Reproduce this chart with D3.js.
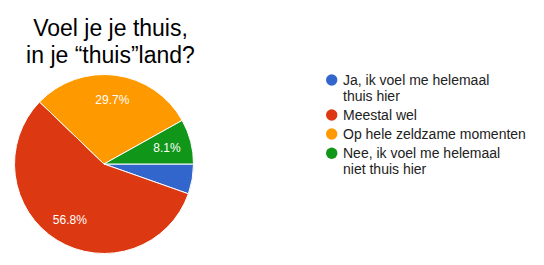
<!DOCTYPE html>
<html><head><meta charset="utf-8">
<script src="https://cdn.jsdelivr.net/npm/d3@7"></script>
<style>body{margin:0;background:#fff}svg{display:block}</style>
</head><body>
<svg id="c" width="544" height="265"></svg>
<script>
const titleLines = ["Voel je je thuis,", "in je \u201cthuis\u201dland?"];
const categories = ["Ja, ik voel me helemaal thuis hier", "Meestal wel", "Op hele zeldzame momenten", "Nee, ik voel me helemaal niet thuis hier"];
const legendLines = [["Ja, ik voel me helemaal", "thuis hier"], ["Meestal wel"], ["Op hele zeldzame momenten"], ["Nee, ik voel me helemaal", "niet thuis hier"]];
const values = [5.4, 56.8, 29.7, 8.1];
const labels = ["", "56.8%", "29.7%", "8.1%"];
const colors = ["#3366cc", "#dc3912", "#ff9900", "#109618"];

const svg = d3.select("#c");
const font = "'Liberation Sans', Arial, sans-serif";

svg.append("g").selectAll("text").data(titleLines).join("text")
  .attr("x", 110.5).attr("y", (d, i) => 36 + i * 27)
  .attr("text-anchor", "middle").attr("font-family", font).attr("font-size", 23).attr("fill", "#000")
  .text(d => d);

const cx = 104, cy = 164, R = 89.5;
const pie = d3.pie().sort(null).value(d => d).startAngle(Math.PI / 2).endAngle(Math.PI / 2 + 2 * Math.PI);
const arcs = pie(values);
const arc = d3.arc().innerRadius(0).outerRadius(R);
const labelArc = d3.arc().innerRadius(65).outerRadius(65);
const g = svg.append("g").attr("transform", `translate(${cx},${cy})`);
g.selectAll("path").data(arcs).join("path")
  .attr("d", arc).attr("fill", (d, i) => colors[i]).attr("stroke", "#fff").attr("stroke-width", 1);
g.selectAll("text").data(arcs).join("text")
  .attr("transform", d => `translate(${labelArc.centroid(d)})`)
  .attr("dy", "0.35em").attr("text-anchor", "middle")
  .attr("font-family", font).attr("font-size", 12).attr("fill", "#fff")
  .text((d, i) => labels[i]);

const legendY = [80, 115, 134, 153.3];
const lg = svg.append("g");
categories.forEach((c, i) => {
  lg.append("circle").attr("cx", 331.7).attr("cy", legendY[i]).attr("r", 5.7).attr("fill", colors[i]);
  legendLines[i].forEach((t, j) => {
    lg.append("text").attr("x", 343).attr("y", legendY[i] + 4.5 + j * 16.3)
      .attr("font-family", font).attr("font-size", 14).attr("fill", "#222").text(t);
  });
});
</script>
</body></html>
